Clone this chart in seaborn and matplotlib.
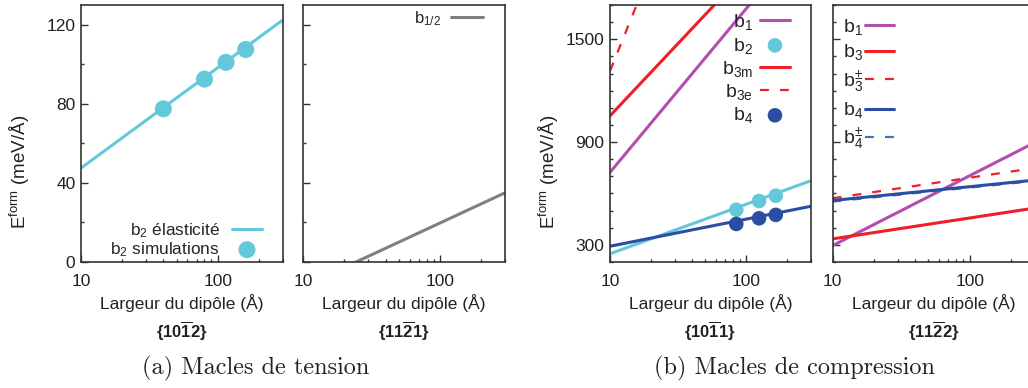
import numpy as np
import pandas as pd
import matplotlib
matplotlib.use("Agg")
import matplotlib.pyplot as plt
import seaborn as sns
from matplotlib.ticker import FixedLocator, NullFormatter, MultipleLocator

# ---------------- data ----------------
x_ends = [10, 300]
# (a) {10-12}
t1_b2_elast = [47.5, 122.5]
t1_sim_x = [40, 80, 115, 160]
t1_b2_sim = [77.5, 92.5, 101, 107.5]
# (a) {11-21}
t2_b12 = [-12.4, 35]
# (b) {10-11}
c1_b1 = [723, 2131]
c1_b2 = [248, 674]
c1_b3m = [1053, 2298]
c1_b3e = [1315, 4216]
c1_b4 = [292, 525]
c1_sim_x = [85, 125, 166]
c1_b2_sim = [505, 556, 587]
c1_b4_sim = [422, 455, 475]
# (b) {11-22}
c2_b1 = [296, 898]
c2_b3 = [335, 515]
c2_b3pm = [572, 749]
c2_b4 = [559, 678]
c2_b4pm = [553, 673]

x_ticks = [10, 100]
x_ticklabels = ["10", "100"]
yticks_a = [0, 40, 80, 120]
yticks_b = [300, 900, 1500]

CYAN = "#63c9da"
PURPLE = "#b14fae"
RED = "#ee1f26"
BLUE = "#2a4ea3"
GREY = "#808080"

sns.set_theme(style="white")
plt.rcParams["font.family"] = ["Liberation Sans", "DejaVu Sans"]
plt.rcParams["mathtext.fontset"] = "custom"
plt.rcParams["mathtext.rm"] = "Liberation Sans"
plt.rcParams["mathtext.it"] = "Liberation Sans:italic"
plt.rcParams["mathtext.bf"] = "Liberation Sans:bold"
plt.rcParams["mathtext.default"] = "regular"

W, H = 1028, 388
fig = plt.figure(figsize=(W / 100, H / 100), dpi=100)

def add_ax(left_px, right_px):
    return fig.add_axes([left_px / W, (H - 262) / H, (right_px - left_px) / W, 257 / H])

ax1 = add_ax(81, 283)
ax2 = add_ax(303.3, 505)
ax3 = add_ax(610, 810.7)
ax4 = add_ax(832.7, 1035)

LW = 2.2
TXT = "#222222"

def style(ax, ylim, major, minor_step, show_ylabels):
    ax.set_xscale("log")
    ax.set_xlim(10, 300)
    ax.set_ylim(*ylim)
    ax.xaxis.set_major_locator(FixedLocator(x_ticks))
    ax.set_xticklabels(x_ticklabels)
    ax.xaxis.set_minor_locator(FixedLocator([20, 30, 40, 50, 60, 70, 80, 90, 200, 300]))
    ax.xaxis.set_minor_formatter(NullFormatter())
    ax.yaxis.set_major_locator(FixedLocator(major))
    ax.yaxis.set_minor_locator(MultipleLocator(minor_step))
    ax.tick_params(which="both", direction="in", left=True, bottom=True, top=False, right=False,
                   color="#333333", width=1.0)
    ax.tick_params(which="major", length=5, labelsize=12.5, labelcolor=TXT)
    ax.tick_params(axis="x", which="major", pad=9)
    ax.tick_params(axis="y", which="major", pad=4)
    ax.tick_params(which="minor", length=2.5)
    if not show_ylabels:
        ax.tick_params(axis="y", labelleft=False)
    for s in ax.spines.values():
        s.set_color("#333333")
        s.set_linewidth(1.2)
    ax.set_xlabel("")
    ax.set_ylabel("")

# ---------- panel 1 ----------
sns.lineplot(x=x_ends, y=t1_b2_elast, ax=ax1, color=CYAN, lw=LW, label="b$_2$ élasticité")
sns.scatterplot(x=t1_sim_x, y=t1_b2_sim, ax=ax1, color=CYAN, s=150, edgecolor="none",
                label="b$_2$ simulations", zorder=3)
style(ax1, (0, 130), yticks_a, 20, True)
ax1.legend(loc="lower right", bbox_to_anchor=(0.896, 0.012), fontsize=12.4, markerfirst=False,
           frameon=False, handlelength=1.75, labelspacing=0.0, borderaxespad=0, borderpad=0,
           handletextpad=0.7)

# ---------- panel 2 ----------
sns.lineplot(x=x_ends, y=t2_b12, ax=ax2, color=GREY, lw=LW, label="b$_{1/2}$")
style(ax2, (0, 130), yticks_a, 20, False)
ax2.legend(loc="upper right", bbox_to_anchor=(0.891, 0.985), fontsize=12, markerfirst=False,
           frameon=False, handlelength=1.9, borderaxespad=0, borderpad=0, handletextpad=0.6)

# ---------- panel 3 ----------
sns.lineplot(x=x_ends, y=c1_b1, ax=ax3, color=PURPLE, lw=LW, label="b$_1$")
sns.lineplot(x=x_ends, y=c1_b2, ax=ax3, color=CYAN, lw=LW)
sns.scatterplot(x=c1_sim_x, y=c1_b2_sim, ax=ax3, color=CYAN, s=110, edgecolor="none",
                label="b$_2$", zorder=3)
sns.lineplot(x=x_ends, y=c1_b3m, ax=ax3, color=RED, lw=LW, label="b$_{3m}$")
sns.lineplot(x=x_ends, y=c1_b3e, ax=ax3, color=RED, lw=1.6, linestyle=(0, (4, 5)), label="b$_{3e}$")
sns.lineplot(x=x_ends, y=c1_b4, ax=ax3, color=BLUE, lw=LW)
sns.scatterplot(x=c1_sim_x, y=c1_b4_sim, ax=ax3, color=BLUE, s=110, edgecolor="none",
                label="b$_4$", zorder=3)
style(ax3, (200, 1700), yticks_b, 100, True)
ax3.legend(loc="upper right", bbox_to_anchor=(0.897, 0.972), fontsize=14, markerfirst=False,
           frameon=False, handlelength=1.55, labelspacing=0.17, borderaxespad=0, borderpad=0,
           handletextpad=0.35)

# ---------- panel 4 ----------
sns.lineplot(x=x_ends, y=c2_b1, ax=ax4, color=PURPLE, lw=LW, label="b$_1$")
sns.lineplot(x=x_ends, y=c2_b3, ax=ax4, color=RED, lw=LW, label="b$_3$")
sns.lineplot(x=x_ends, y=c2_b3pm, ax=ax4, color=RED, lw=1.6, linestyle=(0, (4, 5)), label="b$_3^{\\pm}$")
sns.lineplot(x=x_ends, y=c2_b4, ax=ax4, color=BLUE, lw=LW, label="b$_4$")
sns.lineplot(x=x_ends, y=c2_b4pm, ax=ax4, color="#4a6fb8", lw=1.6, linestyle=(0, (4, 5)),
             label="b$_4^{\\pm}$", zorder=1)
style(ax4, (200, 1700), yticks_b, 100, False)
ax4.legend(loc="upper left", bbox_to_anchor=(0.05, 0.955), fontsize=14, markerfirst=False,
           frameon=False, handlelength=1.5, labelspacing=0.3, borderaxespad=0, borderpad=0,
           handletextpad=0.1)

# ---------- labels ----------
for ax, plane in [(ax1, "{10$\\overline{1}$2}"), (ax2, "{11$\\overline{2}$1}"),
                  (ax3, "{10$\\overline{1}$1}"), (ax4, "{11$\\overline{2}$2}")]:
    bb = ax.get_position()
    cx = (bb.x0 + bb.x1) / 2
    fig.text(cx, 1 - 303 / H, "Largeur du dipôle (Å)", ha="center", va="center", fontsize=12.5,
             color=TXT)
    fig.text(cx, 1 - 331 / H, plane, ha="center", va="center", fontsize=12, fontweight="bold",
             color=TXT)

for ax in (ax1, ax3):
    ax.set_ylabel("E$^{form}$ (meV/Å)", fontsize=13.5, color=TXT)
    ax.yaxis.set_label_coords(-0.245, 0.35)

fig.text(256 / W, 1 - 368 / H, "(a) Macles de tension", ha="center", va="center",
         fontsize=17.5, family="cmr10", color=TXT)
fig.text(794 / W, 1 - 368 / H, "(b) Macles de compression", ha="center", va="center",
         fontsize=17.5, family="cmr10", color=TXT)

fig.savefig("out.png", dpi=100)
